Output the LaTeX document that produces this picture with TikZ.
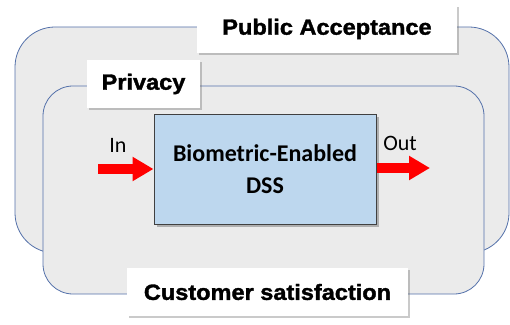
\documentclass[tikz,border=0pt]{standalone}
\usepackage{fontspec}
\setmainfont{Carlito}
\newfontfamily\blk[FakeStretch=1.07,BoldFeatures={FakeBold=1.6}]{Liberation Sans}
\usetikzlibrary{arrows.meta,shadows}
\definecolor{frameblue}{RGB}{84,113,170}
\definecolor{panelgray}{RGB}{235,235,235}
\definecolor{dssblue}{RGB}{189,215,238}
\definecolor{arrred}{RGB}{255,0,0}
\tikzset{
  panel/.style={draw=frameblue, line width=0.8pt, fill=panelgray},
  tag/.style={fill=white, inner sep=0pt, drop shadow={shadow xshift=2pt, shadow yshift=-2pt, opacity=0.35, fill=black!60},
    font=\blk\bfseries\fontsize{22}{26}\selectfont, minimum height=48pt},
  dssbox/.style={draw=black!75, line width=1pt, fill=dssblue, minimum width=222pt, minimum height=109pt,
    drop shadow={shadow xshift=2.5pt, shadow yshift=-2.5pt, opacity=0.45, fill=black!60},
    align=center, font=\bfseries\fontsize{24}{32}\selectfont},
  flow/.style={draw=arrred, line width=9pt, -{Triangle[length=21pt,width=23pt]}},
  flowlabel/.style={font=\fontsize{22}{24}\selectfont}
}
\begin{document}
\begin{tikzpicture}[x=1pt,y=1pt]
\useasboundingbox (0,0) rectangle (510,324);
\draw[panel, rounded corners=40pt] (15,71) rectangle (509,297);
\draw[panel, rounded corners=30pt] (43,30) rectangle (484,238);
\node[tag, minimum width=260pt] (pa) at (327,295) {Public Acceptance};
\node[tag, minimum width=113pt] (priv) at (143.5,240) {Privacy};
\node[dssbox] (dss) at (265,154.5) {Biometric-Enabled\\DSS};
\node[tag, minimum width=281pt] (cs) at (267.5,32) {Customer satisfaction};
\coordinate (inStart) at (98,155);
\coordinate (outEnd) at (430,156);
\draw[flow] (inStart) -- (dss.west |- inStart);
\draw[flow] (dss.east |- outEnd) -- (outEnd);
\node[flowlabel] (inLbl) at (118,179) {In};
\node[flowlabel] (outLbl) at (400,181) {Out};
\end{tikzpicture}
\end{document}
